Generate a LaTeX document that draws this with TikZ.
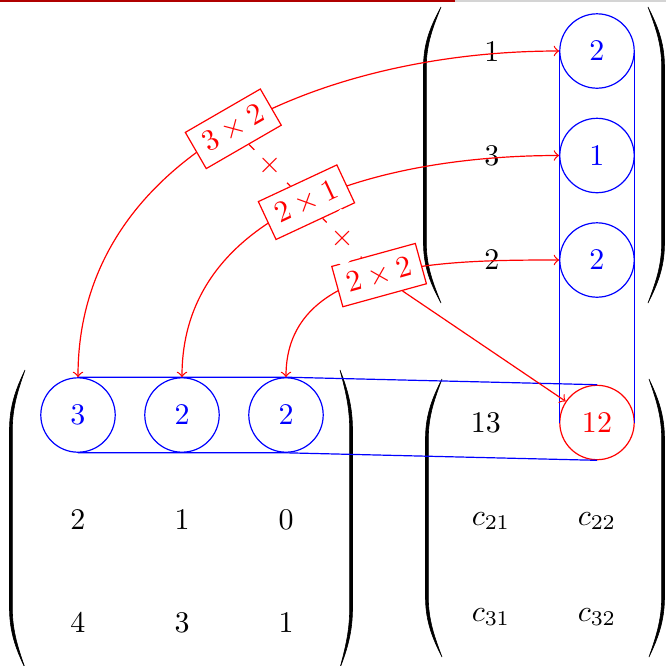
\documentclass[tikz,border=0pt]{standalone}
\usetikzlibrary{arrows}
\newcommand{\pparen}[5]{%
  \filldraw[line width=0.2pt] (#1,#3) .. controls ({#2+0.45*(#1-#2)},{#3+18}) and (#2,{#3+35}) .. (#2,{#3+60})
    -- (#2,{#4-60}) .. controls (#2,{#4-35}) and ({#2+0.45*(#1-#2)},{#4-18}) .. (#1,#4)
    .. controls ({#2+#5+0.45*(#1-#2-#5)},{#4-20}) and ({#2+#5},{#4-37}) .. ({#2+#5},{#4-60})
    -- ({#2+#5},{#3+60}) .. controls ({#2+#5},{#3+37}) and ({#2+#5+0.45*(#1-#2-#5)},{#3+20}) .. (#1,#3) -- cycle;}
\definecolor{barred}{RGB}{176,0,0}
\definecolor{bargray}{RGB}{212,212,212}
\begin{document}
\begin{tikzpicture}[x=0.3333pt,y=-0.3333pt,
  circ/.style={circle,draw,minimum size=24.8pt,inner sep=0pt},
  bcirc/.style={circ,blue,text=blue},
  rcirc/.style={circ,red,text=red},
  entry/.style={inner sep=0pt},
  lab/.style={sloped,draw,fill=white,text=red,inner sep=3.33pt},
  plus/.style={sloped,fill=white,text=red}]
\useasboundingbox (0,0) rectangle (666,666);
% top bar
\fill[bargray] (455,0) rectangle (666,2);
\fill[barred] (0,0) rectangle (455,2);
% parentheses
\pparen{25}{9.5}{370}{668}{2.8}
\pparen{340}{352.5}{370}{668}{-2.8}
\pparen{441}{423.5}{7}{303}{2.8}
\pparen{648}{664.5}{7}{303}{-2.8}
\pparen{442}{425.5}{379}{657}{2.8}
\pparen{649}{664.5}{379}{657}{-2.8}
% matrix A
\node[bcirc] (A11) at (78,415) {$3$};
\node[bcirc] (A12) at (182,415) {$2$};
\node[bcirc] (A13) at (286,415) {$2$};
\node[entry] (A21) at (78,520) {$2$};
\node[entry] (A22) at (182,520) {$1$};
\node[entry] (A23) at (286,520) {$0$};
\node[entry] (A31) at (78,623) {$4$};
\node[entry] (A32) at (182,623) {$3$};
\node[entry] (A33) at (286,623) {$1$};
% matrix B
\node[entry] (B11) at (492,52) {$1$};
\node[entry] (B21) at (492,156) {$3$};
\node[entry] (B31) at (492,260) {$2$};
\node[bcirc] (B12) at (597,51) {$2$};
\node[bcirc] (B22) at (597,155.5) {$1$};
\node[bcirc] (B32) at (597,260) {$2$};
% matrix C
\node[entry] (C11) at (486,423) {$13$};
\node[rcirc] (C12) at (597,422.5) {$12$};
\node[entry] (C21) at (491,521) {$c_{21}$};
\node[entry] (C22) at (597,521) {$c_{22}$};
\node[entry] (C31) at (491,617) {$c_{31}$};
\node[entry] (C32) at (597,617) {$c_{32}$};
% blue outlines
\draw[blue] (A11.north) -- (A13.north) -- (C12.north);
\draw[blue] (A11.south) -- (A13.south) -- (C12.south);
\draw[blue] (B12.west) -- (C12.west);
\draw[blue] (B12.east) -- (C12.east);
% red arrows
\draw[red,<->] (A11.north) to[out=90,in=180] node[lab] (l1) {$3\times2$} (B12.west);
\draw[red,<->] (A12.north) to[out=90,in=180] node[lab] (l2) {$2\times1$} (B22.west);
\draw[red,<->] (A13.north) to[out=90,in=180] node[lab] (l3) {$2\times2$} (B32.west);
\draw[red,dashed] (l1) -- node[plus] (p1) {$+$} (l2);
\draw[red,dashed] (l2) -- node[plus] (p2) {$+$} (l3);
\draw[red,->] (l3) -- (C12);
\end{tikzpicture}
\end{document}
